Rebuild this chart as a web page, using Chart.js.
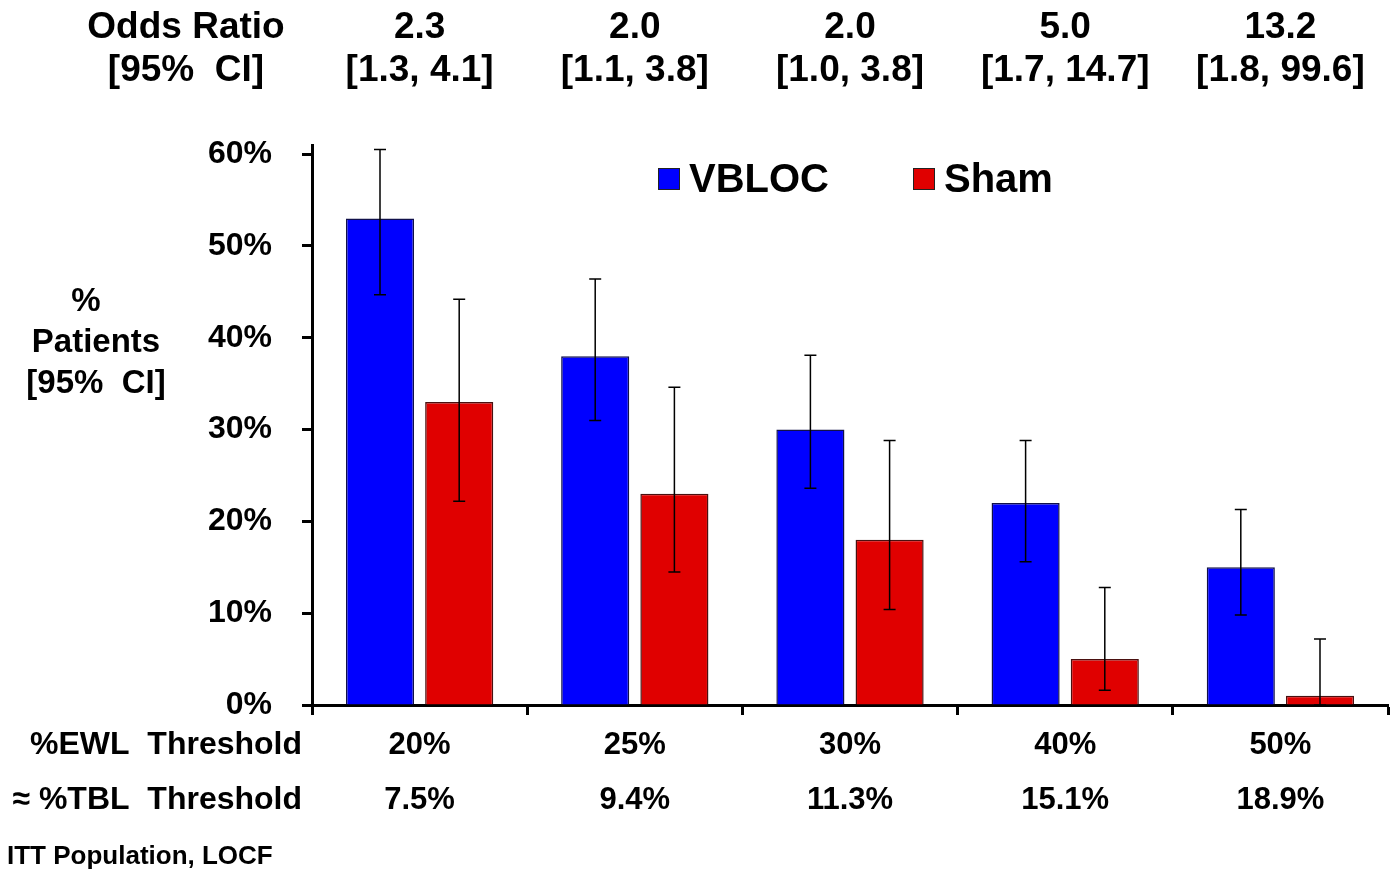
<!DOCTYPE html>
<html>
<head>
<meta charset="utf-8">
<script src="https://cdn.jsdelivr.net/npm/chart.js@4/dist/chart.umd.min.js"></script>
<style>
  html, body { margin: 0; padding: 0; background: #fff; }
  #wrap { position: relative; width: 1391px; height: 874px; }
</style>
</head>
<body>
<div id="wrap"><canvas id="chart" width="1391" height="874"></canvas></div>
<script>
// data
var ewlThresholds = ['20%', '25%', '30%', '40%', '50%'];
var tblThresholds = ['7.5%', '9.4%', '11.3%', '15.1%', '18.9%'];
var oddsRatios = ['2.3', '2.0', '2.0', '5.0', '13.2'];
var oddsCI = ['[1.3, 4.1]', '[1.1, 3.8]', '[1.0, 3.8]', '[1.7, 14.7]', '[1.8, 99.6]'];

var vblocValues = [53, 38, 30, 22, 15];
var vblocLower = [44.7, 31.0, 23.6, 15.6, 9.8];
var vblocUpper = [60.5, 46.4, 38.1, 28.8, 21.3];

var shamValues = [33, 23, 18, 5, 1];
var shamLower = [22.2, 14.5, 10.4, 1.6, 0];
var shamUpper = [44.2, 34.6, 28.8, 12.8, 7.2];

var yTicks = [0, 10, 20, 30, 40, 50, 60];

var FONT = '"Liberation Sans", Arial, sans-serif';

// category labels: two rows under each bar group
var xLabels = ewlThresholds.map(function(e, i){ return [e, tblThresholds[i]]; });

// error bars (95% CI) drawn on the bars
var errorBars = {
	id: 'errorBars',
	afterDatasetsDraw: function(chart){
		var ctx = chart.ctx;
		var y = chart.scales.y;
		chart.data.datasets.forEach(function(ds, i){
			var meta = chart.getDatasetMeta(i);
			meta.data.forEach(function(bar, j){
				var top = y.getPixelForValue(ds.upper[j]);
				var bot = y.getPixelForValue(ds.lower[j]);
				ctx.save();
				ctx.strokeStyle = '#000';
				ctx.lineWidth = 1.5;
				ctx.beginPath();
				ctx.moveTo(bar.x, top); ctx.lineTo(bar.x, bot);
				ctx.moveTo(bar.x - 6, top); ctx.lineTo(bar.x + 6, top);
				ctx.moveTo(bar.x - 6, bot); ctx.lineTo(bar.x + 6, bot);
				ctx.stroke();
				ctx.restore();
			});
		});
	}
};

// texts around the plot: odds ratio rows, axis title, row titles, legend, footnote
var extraTexts = {
	id: 'extraTexts',
	afterDraw: function(chart){
		var ctx = chart.ctx;
		var x = chart.scales.x;
		ctx.save();
		ctx.fillStyle = '#000';
		ctx.textBaseline = 'middle';

		// odds ratio header
		ctx.font = 'bold 37px ' + FONT;
		ctx.textAlign = 'center';
		ctx.fillText('Odds Ratio', 186, 28);
		ctx.fillText('[95%  CI]', 186, 71);
		oddsRatios.forEach(function(v, i){
			var px = x.getPixelForValue(i);
			ctx.fillText(v, px, 28);
			ctx.fillText(oddsCI[i], px, 71);
		});

		// y axis title
		ctx.font = 'bold 33px ' + FONT;
		ctx.fillText('%', 86, 302);
		ctx.fillText('Patients', 96, 343);
		ctx.fillText('[95%  CI]', 96, 384);

		// row titles for the x labels
		ctx.font = 'bold 32px ' + FONT;
		ctx.textAlign = 'right';
		ctx.fillText('%EWL  Threshold', 302, 745);
		ctx.fillText('\u2248 %TBL  Threshold', 302, 800);

		// legend
		var legendX = [658, 913];
		ctx.font = 'bold 40px ' + FONT;
		ctx.textAlign = 'left';
		chart.data.datasets.forEach(function(ds, i){
			ctx.fillStyle = ds.backgroundColor;
			ctx.fillRect(legendX[i], 168, 22, 22);
			ctx.strokeStyle = '#222';
			ctx.lineWidth = 1;
			ctx.strokeRect(legendX[i] + 0.5, 168.5, 21, 21);
			ctx.fillStyle = '#000';
			ctx.fillText(ds.label, legendX[i] + 31, 181);
		});

		// footnote
		ctx.font = 'bold 26px ' + FONT;
		ctx.fillText('ITT Population, LOCF', 7, 857);
		ctx.restore();
	}
};

var ctx = document.getElementById('chart').getContext('2d');
var myChart = new Chart(ctx, {
	type: 'bar',
	data: {
		labels: xLabels,
		datasets: [
			{
				label: 'VBLOC',
				data: vblocValues,
				lower: vblocLower,
				upper: vblocUpper,
				backgroundColor: '#0000ff',
				borderColor: '#10104a',
				borderWidth: 1.5,
				categoryPercentage: 0.736,
				barPercentage: 0.86
			},
			{
				label: 'Sham',
				data: shamValues,
				lower: shamLower,
				upper: shamUpper,
				backgroundColor: '#e00000',
				borderColor: '#4a1010',
				borderWidth: 1.5,
				categoryPercentage: 0.736,
				barPercentage: 0.86
			}
		]
	},
	options: {
		responsive: false,
		animation: false,
		devicePixelRatio: 1,
		layout: { padding: { top: 145, right: 3, left: 0, bottom: 0 } },
		plugins: {
			legend: { display: false },
			tooltip: { enabled: false }
		},
		scales: {
			x: {
				afterFit: function(s){ s.height = 169; },
				border: { display: true, color: '#000', width: 3 },
				grid: { display: true, drawOnChartArea: false, drawTicks: true, tickLength: 10, tickWidth: 3, tickColor: '#000', offset: true },
				ticks: {
					color: '#000',
					padding: 3,
					maxRotation: 0,
					autoSkip: false,
					font: { family: FONT, size: 31, weight: 'bold', lineHeight: 55 / 31 }
				}
			},
			y: {
				min: 0,
				max: 61,
				afterFit: function(s){ s.width = 312; },
				afterBuildTicks: function(s){
					s.ticks = yTicks.map(function(v){ return { value: v }; });
				},
				border: { display: true, color: '#000', width: 3 },
				grid: { display: true, drawOnChartArea: false, drawTicks: true, tickLength: 10, tickWidth: 3, tickColor: '#000' },
				ticks: {
					color: '#000',
					padding: 30,
					font: { family: FONT, size: 32, weight: 'bold' },
					callback: function(v){ return v + '%'; }
				}
			}
		}
	},
	plugins: [errorBars, extraTexts]
});
</script>
</body>
</html>
